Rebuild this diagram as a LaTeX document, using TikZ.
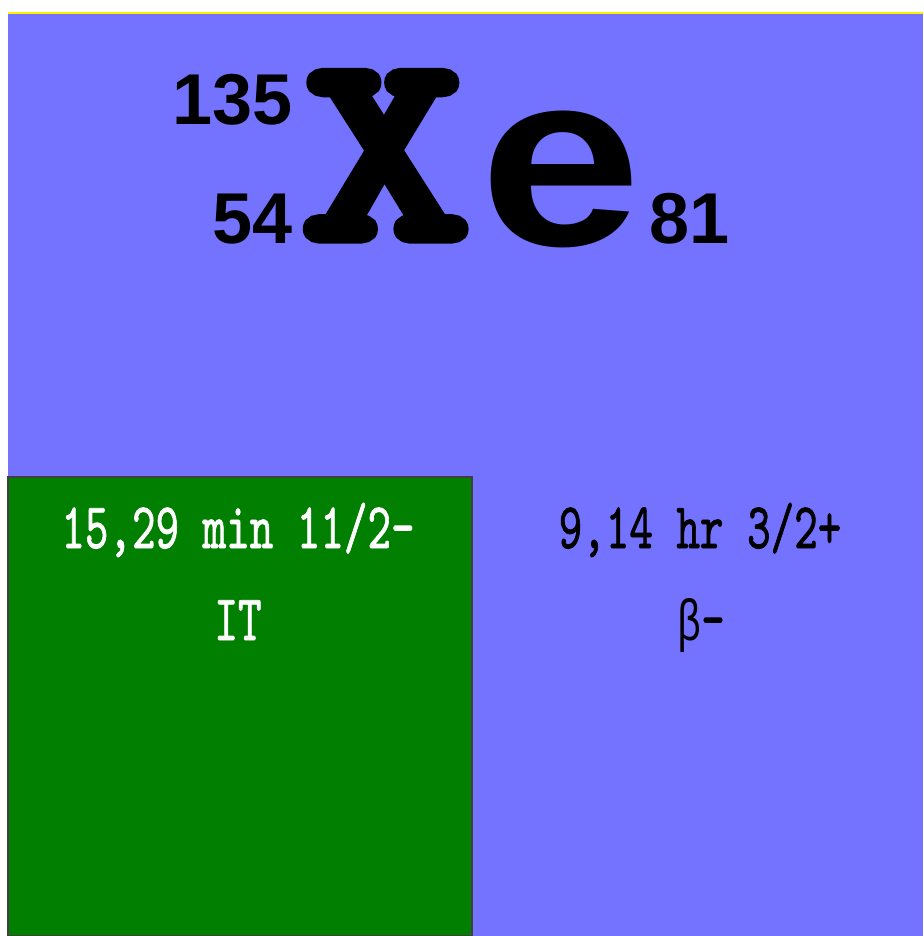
\documentclass[tikz,border=0pt]{standalone}
\usepackage{fontspec}
\setmainfont{Liberation Sans}
\newfontfamily\greekmono{Liberation Mono}
\newfontfamily\elementfont{Liberation Mono Bold}
\newfontfamily\slabfont{lmmono10-regular.otf}[FakeBold=5]
\newfontfamily\decayfont{lmmono10-regular.otf}[FakeBold=1.4]
\usetikzlibrary{positioning}
\definecolor{nuclide}{RGB}{115, 115, 255}
\definecolor{isomer}{RGB}{0, 127, 0}
\definecolor{rimline}{RGB}{255, 240, 0}
\tikzstyle{nucnum}   = [inner sep=0pt, font=\fontsize{72}{72}\selectfont\bfseries]
\tikzstyle{symbolx}  = [inner sep=0pt, xscale=1.2, font=\slabfont\fontsize{266}{266}\selectfont]
\tikzstyle{symbolel} = [inner sep=0pt, xscale=1.12, font=\elementfont\fontsize{250}{250}\selectfont]
\tikzstyle{decay}    = [inner sep=0pt, xscale=0.69, font=\decayfont\fontsize{65}{65}\selectfont]
\tikzstyle{isobox}   = [rectangle, minimum width=464pt, minimum height=459pt,
                        inner sep=0pt, draw=black!75, line width=1.2pt, fill=isomer]

\begin{document}
\begin{tikzpicture}[x=1pt, y=-1pt]
  \useasboundingbox (0,0) rectangle (923,936);
  \fill[white]   (0,0) rectangle (923,936);
  \fill[nuclide] (8,14) rectangle (923,936);
  \draw[rimline, line width=2pt] (8,13) -- (923,13);

  % Symbol
  \node (mass)   [nucnum, anchor=base east] at (293,125) {135};
  \node (charge) [nucnum, anchor=base east] at (293,243) {54};
  \node (symx)   [symbolx, anchor=base]     at (386,237) {X};
  \node (syme)   [symbolel, anchor=base]    at (562,245) {e};
  \node (neut)   [nucnum, anchor=base west] at (649,243) {81};

  % Isomer and ground state
  \node (iso)    [isobox] at (240,706.5) {};
  \node (isohl)  [decay, text=white, anchor=base] at (238,548) {15,29 min 11/2-};
  \node (isomode)[decay, text=white, anchor=base] at (238,640) {IT};
  \node (gshl)   [decay, anchor=base] at (700,548) {9,14 hr 3/2+};
  \node (gsmode) [decay, anchor=base] at (701,640) {{\greekmono\fontsize{58}{58}\selectfont β}-};
\end{tikzpicture}
\end{document}
